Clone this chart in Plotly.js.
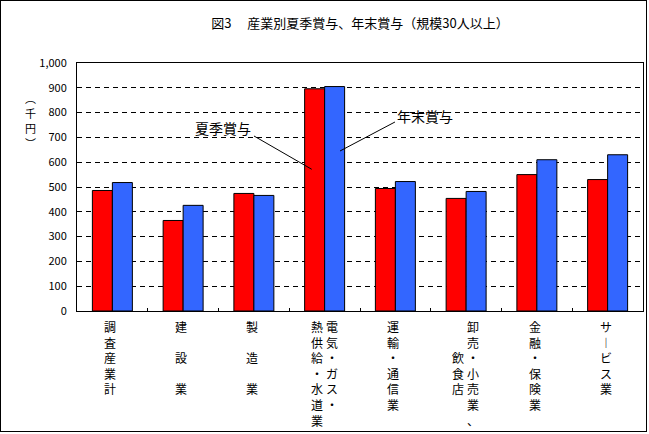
<!DOCTYPE html>
<html>
<head>
<meta charset="utf-8">
<script src="https://cdn.plot.ly/plotly-3.0.1.min.js"></script>
<style>
  html, body { margin: 0; padding: 0; background: #fff; }
  #wrap { position: relative; width: 649px; height: 434px; }
  #chart { position: absolute; left: 0; top: 0; width: 649px; height: 434px; }
  #frame { position: absolute; left: 0; top: 0; width: 647px; height: 432px; border: 1px solid #000; box-sizing: border-box; pointer-events: none; }
</style>
</head>
<body>
<div id="wrap"><div id="chart"></div><div id="frame"></div></div>
<script>
// ---- data ----
const categories = ['調査産業計', '建設業', '製造業', '電気・ガス・熱供給・水道業', '運輸・通信業', '卸売・小売業、飲食店', '金融・保険業', 'サービス業'];
const summerBonus = [486, 365, 474, 896, 494, 454, 550, 530];
const winterBonus = [518, 426, 466, 905, 522, 482, 610, 630];
const seriesNames = ['夏季賞与', '年末賞与'];
// vertical label columns (right column first); '　' = blank row
const labelColumns = [
  ['調査産業計'],
  ['建　設　業'],
  ['製　造　業'],
  ['電気・ガス・', '熱供給・水道業'],
  ['運輸・通信業'],
  ['卸売・小売業、', '　　飲食店'],
  ['金融・保険業'],
  ['サービス業']
];
const yTickVals = [0, 100, 200, 300, 400, 500, 600, 700, 800, 900, 1000];
const yTickText = ['0', '100', '200', '300', '400', '500', '600', '700', '800', '900', '1,000'];
const titleText = '図3　 産業別夏季賞与、年末賞与（規模30人以上）';
const yTitleChars = ['︵', '千', '円', '︶'];

const FONT = '"Noto Sans CJK JP", "MS PGothic", sans-serif';

const traces = [
  { type: 'bar', name: seriesNames[0], x: categories, y: summerBonus,
    marker: { color: '#FF0000', line: { color: '#000', width: 1 } } },
  { type: 'bar', name: seriesNames[1], x: categories, y: winterBonus,
    marker: { color: '#3366FF', line: { color: '#000', width: 1 } } }
];

function vert(s) {
  return s.replace(/ー/g, '︱').split('').join('<br>');
}

const annotations = [];
labelColumns.forEach((cols, i) => {
  cols.forEach((col, j) => {
    let shift = cols.length === 1 ? -2 : (j === 0 ? 7 : -8);
    annotations.push({
      xref: 'x', yref: 'paper', x: categories[i], y: -0.02,
      xanchor: 'center', yanchor: 'top', xshift: shift,
      text: vert(col), showarrow: false, align: 'center',
      font: { family: FONT, size: 12, color: '#000' }
    });
  });
});
// y-axis title, vertical: one character per row, 15 px apart
yTitleChars.forEach((c, k) => {
  annotations.push({
    xref: 'paper', yref: 'paper', x: -0.083, y: 0.768,
    xanchor: 'center', yanchor: 'middle', yshift: (1.5 - k) * 15,
    text: c, showarrow: false, borderpad: 0,
    font: { family: FONT, size: 11, color: '#000' }
  });
});
// series callouts
annotations.push({
  xref: 'paper', yref: 'paper', x: 0.258, y: 0.737, xanchor: 'center', yanchor: 'middle',
  text: seriesNames[0], showarrow: false, font: { family: FONT, size: 14, color: '#000' }
});
annotations.push({
  xref: 'paper', yref: 'paper', x: 0.6148, y: 0.786, xanchor: 'center', yanchor: 'middle',
  text: seriesNames[1], showarrow: false, font: { family: FONT, size: 14, color: '#000' }
});

const shapes = [
  { type: 'line', xref: 'paper', yref: 'paper', x0: 0.3127, y0: 0.7056, x1: 0.4147, y1: 0.5714,
    line: { color: '#000', width: 1 } },
  { type: 'line', xref: 'paper', yref: 'paper', x0: 0.5618, y0: 0.7621, x1: 0.4647, y1: 0.6452,
    line: { color: '#000', width: 1 } }
];

const layout = {
  width: 649, height: 434,
  margin: { l: 77, r: 6, t: 63, b: 123, pad: 0 },
  paper_bgcolor: '#fff', plot_bgcolor: '#fff',
  showlegend: false,
  barmode: 'group', bargap: 0.435, bargroupgap: 0,
  font: { family: FONT, size: 11, color: '#000' },
  title: { text: titleText, x: 0.5, xref: 'paper', xanchor: 'center', y: 0.947, yref: 'container', yanchor: 'middle',
    font: { family: FONT, size: 13, color: '#000' } },
  xaxis: {
    type: 'category', tickson: 'boundaries', ticks: 'inside', ticklen: 3, tickcolor: '#000', tickwidth: 1,
    showticklabels: false, showgrid: false, showline: true, linecolor: '#000', linewidth: 1, mirror: true,
    zeroline: false, fixedrange: true
  },
  yaxis: {
    range: [0, 1000], tickmode: 'array', tickvals: yTickVals, ticktext: yTickText,
    ticks: '', ticklabelstandoff: 7,
    showgrid: true, gridcolor: '#000', gridwidth: 1, griddash: '5px,4px',
    showline: true, linecolor: '#000', linewidth: 1, mirror: true, zeroline: false,
    tickfont: { family: FONT, size: 11, color: '#000' }, fixedrange: true
  },
  annotations: annotations,
  shapes: shapes
};

Plotly.newPlot('chart', traces, layout, { staticPlot: true, displayModeBar: false });
</script>
</body>
</html>
